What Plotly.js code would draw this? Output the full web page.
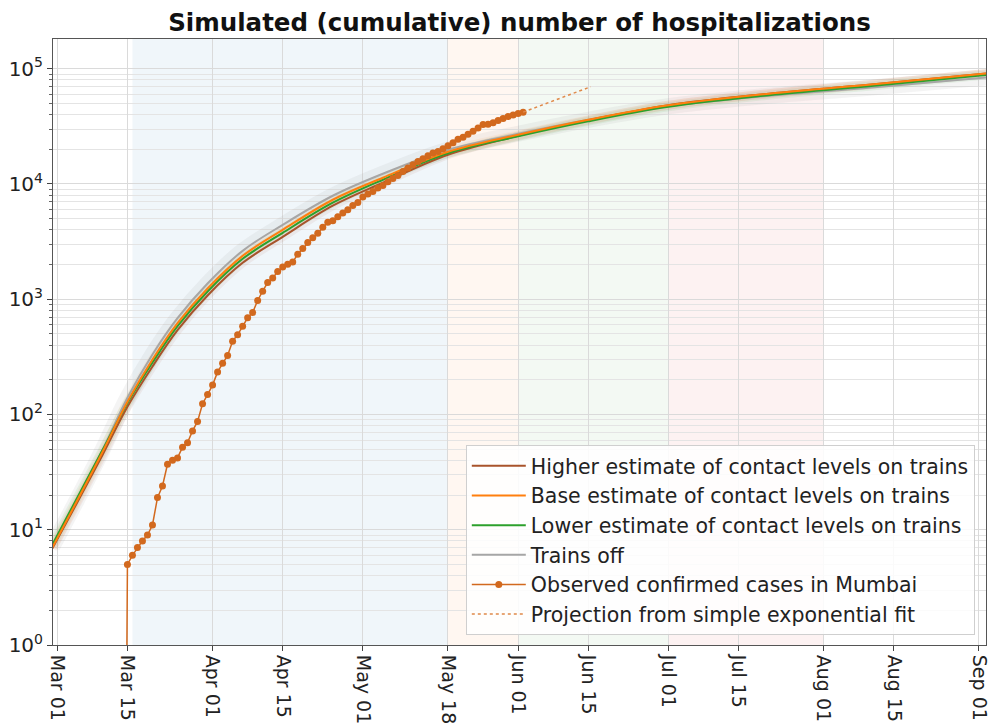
<!DOCTYPE html>
<html>
<head>
<meta charset="utf-8">
<script src="https://cdn.plot.ly/plotly-3.0.1.min.js"></script>
<style>html,body{margin:0;padding:0;background:#fff;}#chart{width:991px;height:726px;}</style>
</head>
<body>
<div id="chart"></div>
<script>
// ---- Model curves ----
var modelDates = ["2020-02-29","2020-03-05","2020-03-10","2020-03-15","2020-03-20","2020-03-25","2020-03-31","2020-04-07","2020-04-15","2020-04-25","2020-05-05","2020-05-18","2020-06-01","2020-06-15","2020-07-01","2020-07-20","2020-08-10","2020-09-03"];
var higherEst = [6.86,17.3,44.3,116.7,261,539,1079,2071,3480,6475,10250,17950,26200,35700,48200,60100,72600,91400];
var baseEst   = [7.0,18,47,129,300,620,1240,2380,4000,7300,11330,19050,26730,36060,48200,60100,72600,91400];
var lowerEst  = [7.4,19.1,48.9,126,283,584,1168,2242,3768,6877,10890,18480,25930,34980,46750,58300,70420,88660];
var trainsOff = [7.14,18.4,48.9,139.7,332,685,1370,2630,4420,7906,12270,19830,27260,36060,47240,57760,68390,84360];

// ---- Observed confirmed cases in Mumbai (daily from 2020-03-14) ----
var obsStart = "2020-03-14";
// first entry stands for zero cases (drawn as a drop to the bottom of the log axis)
var observed = [1e-6,5,6,7,8,9,11,19,24,37,40,42,52,57,72,87,124,149,
  180,234,279,325,433,491,582,690,767,975,1175,1397,1525,1739,1904,2010,2100,2462,2749,3105,3424,3733,4209,4652,4795,5192,5590,5970,6505,6905,
  7693,8170,8610,9210,9705,10450,11170,11860,12850,13750,14680,15680,16550,17580,18550,19140,20220,21460,22790,24450,25500,27070,28630,30540,32790,32970,34020,35490,36930,38440,39690,
  40880,41990];

// ---- Projection from simple exponential fit ----
var projDates = ["2020-06-02","2020-06-15T12:00"];
var projValues = [41990, 69800];

// ---- Phases (shaded periods) ----
var phaseStart = ["2020-03-16","2020-05-18","2020-06-01","2020-07-01"];
var phaseEnd   = ["2020-05-18","2020-06-01","2020-07-01","2020-08-01"];
var phaseColor = ["rgba(31,119,180,0.065)","rgba(255,127,14,0.06)","rgba(44,160,44,0.06)","rgba(214,39,40,0.06)"];

// ---- Ticks ----
var xTickVals = ["2020-03-01","2020-03-15","2020-04-01","2020-04-15","2020-05-01","2020-05-18","2020-06-01","2020-06-15","2020-07-01","2020-07-15","2020-08-01","2020-08-15","2020-09-01"];
var xTickText = ["Mar 01","Mar 15","Apr 01","Apr 15","May 01","May 18","Jun 01","Jun 15","Jul 01","Jul 15","Aug 01","Aug 15","Sep 01"];
var yTickVals = [1,10,100,1000,10000,100000];
var yTickText = ["10<sup>0</sup>","10<sup>1</sup>","10<sup>2</sup>","10<sup>3</sup>","10<sup>4</sup>","10<sup>5</sup>"];

var names = ["Higher estimate of contact levels on trains","Base estimate of contact levels on trains","Lower estimate of contact levels on trains","Trains off","Observed confirmed cases in Mumbai","Projection from simple exponential fit"];

// build observed dates (consecutive days)
var obsDates = [];
(function(){
  var d0 = new Date(obsStart + "T00:00:00Z");
  for (var i = 0; i < observed.length; i++) {
    var d = new Date(d0.getTime() + i*86400000);
    obsDates.push(d.toISOString().slice(0,10));
  }
})();

function halo(y, color, w) {
  return {x: modelDates, y: y, type: "scatter", mode: "lines", line: {color: color, width: w, shape: "spline", smoothing: 1}, hoverinfo: "skip", showlegend: false};
}

var traces = [
  halo(trainsOff, "rgba(150,150,150,0.10)", 16),
  halo(higherEst, "rgba(160,82,45,0.08)", 9),
  halo(lowerEst, "rgba(44,160,44,0.08)", 9),
  halo(baseEst, "rgba(255,127,14,0.07)", 9),
  {x: modelDates, y: trainsOff, name: names[3], legendrank: 4, type: "scatter", mode: "lines", line: {color: "#a6a6a6", width: 2, shape: "spline", smoothing: 1}},
  {x: modelDates, y: higherEst, name: names[0], legendrank: 1, type: "scatter", mode: "lines", line: {color: "#a8532b", width: 2, shape: "spline", smoothing: 1}},
  {x: modelDates, y: lowerEst, name: names[2], legendrank: 3, type: "scatter", mode: "lines", line: {color: "#2ca02c", width: 2, shape: "spline", smoothing: 1}},
  {x: modelDates, y: baseEst, name: names[1], legendrank: 2, type: "scatter", mode: "lines", line: {color: "#ff7f0e", width: 2, shape: "spline", smoothing: 1}},
  {x: obsDates, y: observed, name: names[4], legendrank: 5, type: "scatter", mode: "lines+markers", line: {color: "#d2691e", width: 1.5}, marker: {color: "#d2691e", size: 7}},
  {x: projDates, y: projValues, name: names[5], legendrank: 6, type: "scatter", mode: "lines", line: {color: "#e0894a", width: 1.5, dash: "dot"}}
];

var shapes = [];
for (var i = 0; i < phaseStart.length; i++) {
  shapes.push({type: "rect", xref: "x", yref: "paper", x0: phaseStart[i], x1: phaseEnd[i], y0: 0, y1: 1, fillcolor: phaseColor[i], line: {width: 0}, layer: "below"});
}

var layout = {
  width: 991, height: 726,
  margin: {l: 53, r: 5, t: 39, b: 81},
  paper_bgcolor: "#ffffff", plot_bgcolor: "#ffffff",
  font: {family: "DejaVu Sans", size: 20, color: "#222"},
  title: {text: "<b>Simulated (cumulative) number of hospitalizations</b>", font: {family: "DejaVu Sans", size: 24.5, color: "#111"}, x: 0.5, xref: "paper", xanchor: "center", y: 0.9697, yref: "container", yanchor: "middle"},
  showlegend: true,
  legend: {x: 0.988, y: 0.0165, xanchor: "right", yanchor: "bottom", itemwidth: 54, bgcolor: "rgba(255,255,255,0.85)", bordercolor: "#cfcfcf", borderwidth: 1, font: {family: "DejaVu Sans", size: 20.5, color: "#222"}},
  xaxis: {
    type: "date", range: ["2020-02-29 03:20", "2020-09-02 10:00"], automargin: false,
    tickmode: "array", tickvals: xTickVals, ticktext: xTickText, tickangle: 90,
    ticklabeloverflow: "allow",
    ticks: "outside", ticklen: 5, tickcolor: "#444",
    showgrid: true, gridcolor: "#dadada", gridwidth: 1,
    showline: true, linecolor: "#555", linewidth: 1, mirror: true,
    tickfont: {family: "DejaVu Sans", size: 19, color: "#222"}
  },
  yaxis: {
    type: "log", range: [0, 5.258], automargin: false,
    tickmode: "array", tickvals: yTickVals, ticktext: yTickText,
    ticks: "outside", ticklen: 5, tickcolor: "#444",
    showgrid: true, gridcolor: "#dadada", gridwidth: 1,
    minor: {dtick: "D1", showgrid: true, gridcolor: "#e4e4e4", ticks: "outside", ticklen: 3, tickcolor: "#666"},
    showline: true, linecolor: "#555", linewidth: 1, mirror: true,
    tickfont: {family: "DejaVu Sans", size: 20, color: "#222"}
  },
  shapes: shapes
};

Plotly.newPlot("chart", traces, layout, {displayModeBar: false, staticPlot: true});
</script>
</body>
</html>
